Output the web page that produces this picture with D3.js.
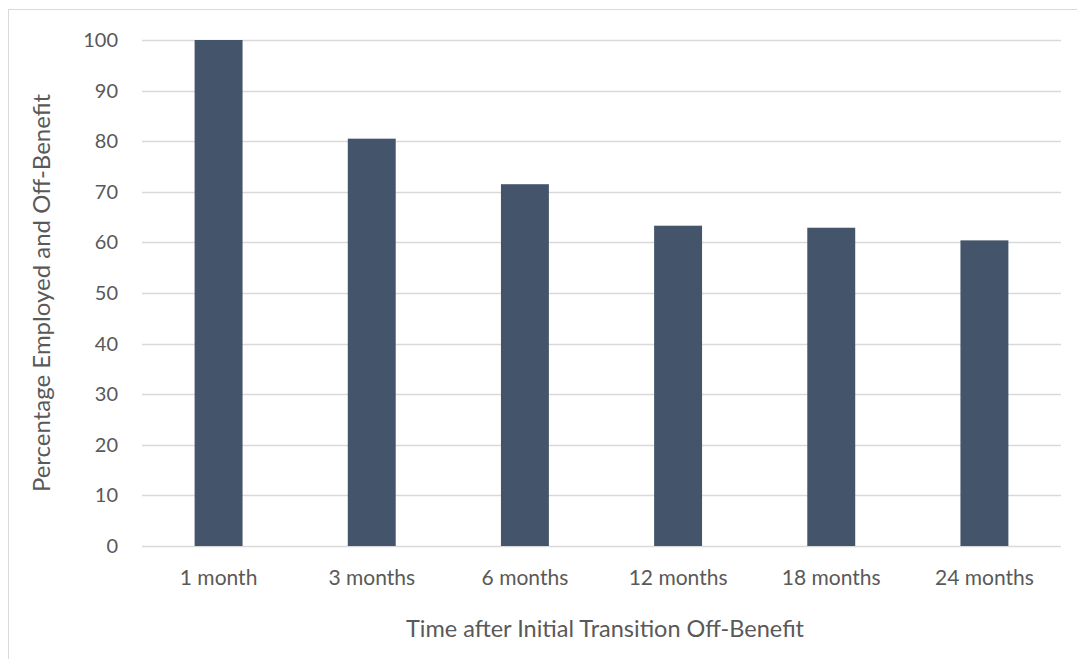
<!DOCTYPE html>
<html>
<head>
<meta charset="utf-8">
<script src="https://cdn.jsdelivr.net/npm/d3@7"></script>
<style>
  body { margin: 0; background: #fff; }
  text { font-family: Lato, "Open Sans", sans-serif; fill: #595959; }
</style>
</head>
<body>
<svg id="chart"></svg>
<script>
// data
const categories = ['1 month', '3 months', '6 months', '12 months', '18 months', '24 months']
const values = [100, 80.5, 71.5, 63.3, 62.9, 60.4]
const yTicks = [0, 10, 20, 30, 40, 50, 60, 70, 80, 90, 100]

const totalWidth = 1077, totalHeight = 659
const margin = { top: 40, right: 16, bottom: 113, left: 142 },
  chartWidth = totalWidth - margin.left - margin.right,
  chartHeight = totalHeight - margin.top - margin.bottom

const svg = d3.select('#chart')
  .attr('width', totalWidth)
  .attr('height', totalHeight)

// outer chart border (only top/left visible in the frame)
svg.append('rect')
  .attr('x', 8.5).attr('y', 9.5)
  .attr('width', totalWidth + 20).attr('height', totalHeight + 20)
  .attr('fill', 'none')
  .attr('stroke', '#d9d9d9')

const chart = svg.append('g')
  .attr('transform', 'translate(' + margin.left + ',' + margin.top + ')')

const x = d3.scaleBand()
  .domain(categories)
  .range([0, chartWidth])
  .paddingInner(0.687)
  .paddingOuter(0.3435)

const y = d3.scaleLinear()
  .domain([0, 100])
  .range([chartHeight, 0])

// gridlines
chart.selectAll('.grid')
  .data(yTicks)
  .enter()
  .append('line')
  .attr('x1', 0)
  .attr('x2', chartWidth)
  .attr('y1', d => Math.round(y(d)) + 0.5)
  .attr('y2', d => Math.round(y(d)) + 0.5)
  .attr('stroke', '#d9d9d9')
  .attr('stroke-width', 1.3)

// bars
chart.selectAll('.bar')
  .data(values)
  .enter()
  .append('rect')
  .attr('x', (d, i) => x(categories[i]))
  .attr('y', d => y(d))
  .attr('width', x.bandwidth())
  .attr('height', d => y(0) - y(d))
  .attr('fill', '#44546a')

// y axis labels
const yAxis = d3.axisLeft(y).tickValues(yTicks).tickSize(0).tickPadding(24)
chart.append('g')
  .call(yAxis)
  .call(g => g.select('.domain').remove())
  .selectAll('text')
  .style('font-size', '20px')
  .style('font-family', 'Lato, sans-serif')
  .style('fill', '#595959')

// x axis labels
const xAxis = d3.axisBottom(x).tickSize(0).tickPadding(24)
chart.append('g')
  .attr('transform', 'translate(0,' + chartHeight + ')')
  .call(xAxis)
  .call(g => g.select('.domain').remove())
  .selectAll('text')
  .style('font-size', '21px')
  .style('font-family', 'Lato, sans-serif')
  .style('fill', '#595959')

// axis titles
svg.append('text')
  .attr('x', 605)
  .attr('y', 637)
  .attr('text-anchor', 'middle')
  .style('font-size', '23.5px')
  .text('Time after Initial Transition Off-Benefit')

svg.append('text')
  .attr('transform', 'translate(50,' + 293 + ') rotate(-90)')
  .attr('text-anchor', 'middle')
  .style('font-size', '24px')
  .text('Percentage Employed and Off-Benefit')
</script>
</body>
</html>
